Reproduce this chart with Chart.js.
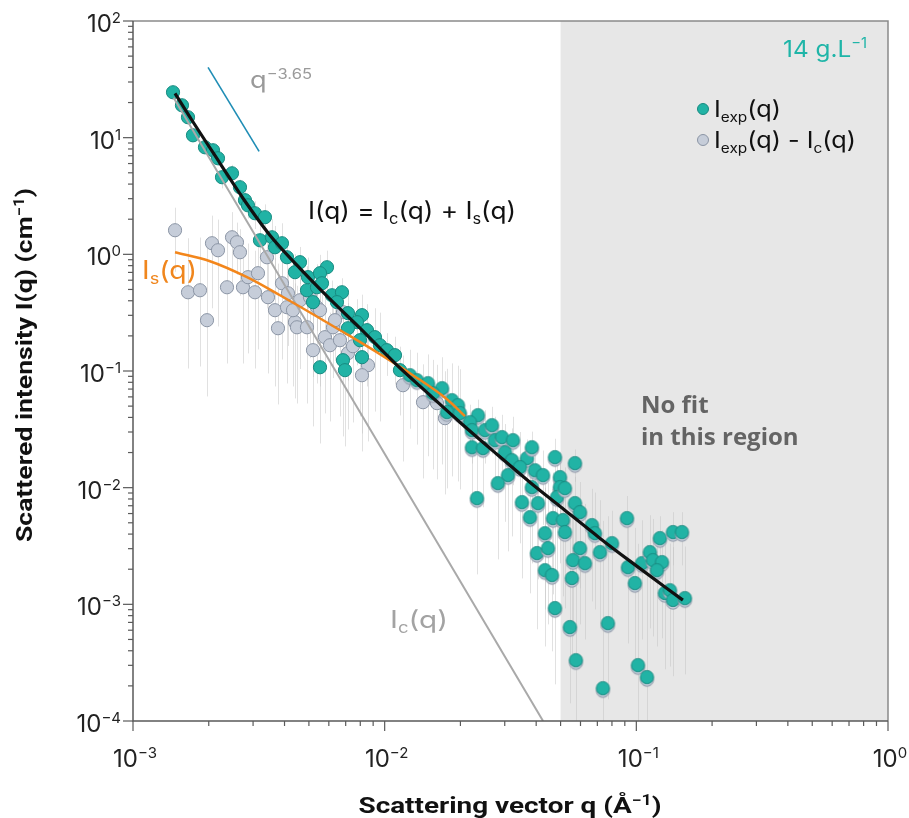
<!DOCTYPE html>
<html>
<head>
<meta charset="utf-8">
<script src="https://cdn.jsdelivr.net/npm/chart.js@4.4.1/dist/chart.umd.min.js"></script>
<style>
  html, body { margin: 0; padding: 0; background: #fff; }
  #wrap { width: 909px; height: 818px; }
</style>
</head>
<body>
<div id="wrap"><canvas id="saxsChart"></canvas></div>
<script>
// measured intensity Iexp(q), teal markers
var tealQ = [1.442e-3, 1.565e-3, 1.654e-3, 1.731e-3, 1.932e-3, 2.079e-3, 2.176e-3, 2.258e-3, 2.474e-3, 2.661e-3,
  2.786e-3, 2.863e-3, 3.052e-3, 3.344e-3, 3.195e-3, 3.566e-3, 3.666e-3, 3.908e-3, 4.091e-3, 4.607e-3,
  4.401e-3, 4.958e-3, 4.913e-3, 5.383e-3, 5.190e-3, 5.899e-3, 5.534e-3, 5.636e-3, 6.174e-3, 6.766e-3,
  6.463e-3, 7.148e-3, 8.125e-3, 7.762e-3, 7.148e-3, 8.505e-3, 9.151e-3, 7.978e-3, 9.579e-3, 0.01021,
  0.01099, 8.125e-3, 6.828e-3, 5.534e-3, 6.954e-3, 0.0115, 0.0126, 0.01344, 0.01486, 0.0169,
  0.01556, 0.01851, 0.01955, 0.01768, 0.01991, 0.02348, 0.02183, 0.02223, 0.02223, 0.02503,
  0.02669, 0.02458, 0.02743, 0.02924, 0.03234, 0.03006, 0.03205, 0.03676, 0.03847, 0.03449,
  0.03955, 0.04256, 0.0309, 0.02818, 0.03847, 0.0475, 0.05703, 0.04972, 0.04972, 0.04837,
  0.05203, 0.02327, 0.03512, 0.04065, 0.05703, 0.03778, 0.04664, 0.0511, 0.04335, 0.05203,
  0.0597, 0.06662, 0.06847, 0.08, 0.07168, 0.0597, 0.04028, 0.04455, 0.05599, 0.06249,
  0.04335, 0.04621, 0.05547, 0.09179, 0.09262, 0.1053, 0.1241, 0.1132, 0.1164, 0.1264,
  0.1207, 0.1398, 0.1518, 0.0987, 0.1299, 0.136, 0.1398, 0.156, 0.0475, 0.05447,
  0.07712, 0.05754, 0.1015, 0.1102, 0.07366];
var tealI = [24.5, 18.95, 14.96, 10.48, 8.27, 7.8, 6.66, 4.58, 4.95, 3.76,
  2.91, 2.63, 2.25, 2.08, 1.32, 1.4, 1.15, 1.245, 0.944, 0.856,
  0.703, 0.637, 0.492, 0.522, 0.389, 0.775, 0.689, 0.565, 0.446, 0.473,
  0.389, 0.313, 0.301, 0.262, 0.2326, 0.2237, 0.1949, 0.1836, 0.1663, 0.1508,
  0.1366, 0.1313, 0.1238, 0.1077, 0.1016, 0.1016, 0.092, 0.0834, 0.0786, 0.0712,
  0.0645, 0.0562, 0.0509, 0.0444, 0.0435, 0.0418, 0.0364, 0.0311, 0.0222, 0.0311,
  0.0343, 0.0218, 0.0255, 0.0271, 0.0255, 0.0201, 0.0172, 0.0179, 0.0222, 0.015,
  0.0141, 0.0128, 0.0128, 0.01093, 0.0101, 0.01825, 0.01622, 0.0123, 0.0101, 0.00829,
  0.0099, 0.00813, 0.00751, 0.00737, 0.00737, 0.00559, 0.00548, 0.00527, 0.00407, 0.00416,
  0.00617, 0.00477, 0.00407, 0.00334, 0.0028, 0.00303, 0.00275, 0.00303, 0.00239, 0.00225,
  0.00196, 0.00178, 0.00168, 0.00548, 0.00208, 0.00225, 0.00369, 0.0028, 0.00239, 0.0023,
  0.00196, 0.00416, 0.00416, 0.00152, 0.00125, 0.00132, 0.00109, 0.00113, 0.000928, 0.000638,
  0.00069, 0.000332, 0.000301, 0.000238, 0.000191];

// Iexp(q) - Ic(q), grey markers
var diffQ = [1.469e-3, 2.06e-3, 2.176e-3, 2.474e-3, 2.589e-3, 2.661e-3, 1.654e-3, 1.846e-3, 1.968e-3, 2.363e-3,
  2.735e-3, 2.863e-3, 3.138e-3, 3.052e-3, 3.406e-3, 3.438e-3, 3.666e-3, 3.768e-3, 3.908e-3, 4.128e-3,
  4.401e-3, 4.482e-3, 4.913e-3, 4.607e-3, 5.049e-3, 4.091e-3, 4.322e-3, 5.383e-3, 5.791e-3, 6.062e-3,
  5.19e-3, 6.643e-3, 6.232e-3, 6.828e-3, 6.346e-3, 7.148e-3, 7.482e-3, 8.583e-3, 8.125e-3, 5.534e-3,
  0.01182, 0.0142, 0.01736, 0.01614];
var diffI = [1.609, 1.245, 1.084, 1.4, 1.269, 1.042, 0.473, 0.492, 0.2725, 0.522,
  0.522, 0.637, 0.689, 0.473, 0.944, 0.429, 0.332, 0.2326, 0.565, 0.464,
  0.262, 0.237, 0.237, 0.404, 0.429, 0.352, 0.332, 0.352, 0.1949, 0.1663,
  0.1508, 0.1836, 0.237, 0.319, 0.2725, 0.142, 0.1631, 0.1121, 0.092, 0.332,
  0.0755, 0.054, 0.0394, 0.053];

// total fit I(q) = Ic(q) + Is(q)
var fitQ = [1.469e-3, 1.715e-3, 2.217e-3, 2.735e-3, 3.5e-3, 4.48e-3, 5.9e-3, 7.98e-3, 0.01119,
  0.01514, 0.0199, 0.02792, 0.03775, 0.04966, 0.07161, 0.0944, 0.1531];
var fitI = [24.0, 14.1, 6.03, 3.025, 1.458, 0.807, 0.4375, 0.2326, 0.1121,
  0.062, 0.0364, 0.01936, 0.01115, 0.00694, 0.003693, 0.002346, 0.001086];

// Is(q) component
var isQ = [1.469e-3, 2.023e-3, 2.838e-3, 3.837e-3, 5.19e-3, 7.08e-3, 9.58e-3, 0.01295, 0.01768, 0.02084];
var isI = [1.042, 0.873, 0.637, 0.446, 0.3067, 0.2067, 0.1393, 0.092, 0.0573, 0.041];

// Ic(q) component (straight in log-log)
var icQ = [1.45e-3, 0.0426];
var icI = [22, 1e-4];

// q^-3.65 guide segment
var guideQ = [1.987e-3, 3.17e-3];
var guideI = [40.1, 7.64];

// error bar half-widths (cm-1) per q range
var errQ = [0.0014, 0.0025, 0.004, 0.006, 0.01, 0.02, 0.035, 0.05, 0.08, 0.12];
var errSigma = [0.9, 0.6, 0.3, 0.15, 0.06, 0.015, 0.008, 0.005, 0.003, 0.002];

var noFitFrom = 0.05;
var xDecades = [-3, -2, -1, 0];
var yDecades = [-4, -3, -2, -1, 0, 1, 2];
var minorSteps = [2, 3, 4, 5, 6, 7, 8, 9];

var FONT = 'Inter, Roboto, sans-serif';
var BOLD_FONT = 'Roboto, "Liberation Sans", sans-serif';
var TEAL = '#21b3a5';
var TEAL_EDGE = '#178a80';
var GREY_FILL = '#c6cdd9';
var GREY_EDGE = '#8b95a5';
var DOT_R = 6.6;

function toPoints(qs, is) {
  return qs.map(function (q, i) { return { x: q, y: is[i] }; });
}

// teal marker with the grey one peeking below it
var shadowDot = document.createElement('canvas');
shadowDot.width = 17; shadowDot.height = 22;
(function () {
  var c = shadowDot.getContext('2d');
  c.lineWidth = 1;
  c.beginPath(); c.arc(8.5, 13.6, DOT_R, 0, Math.PI * 2);
  c.fillStyle = GREY_FILL; c.fill(); c.strokeStyle = GREY_EDGE; c.stroke();
  c.beginPath(); c.arc(8.5, 11, DOT_R, 0, Math.PI * 2);
  c.fillStyle = TEAL; c.fill(); c.strokeStyle = TEAL_EDGE; c.stroke();
})();

// text with sub/superscript runs
function runFont(kind, size, weight, family) {
  var s = kind ? Math.round(size * 0.62) : size;
  return weight + ' ' + s + 'px ' + family;
}
function measureRuns(ctx, runs, size, weight, family) {
  var w = 0;
  runs.forEach(function (r) {
    ctx.font = runFont(r[1], size, weight, family);
    w += ctx.measureText(r[0]).width;
  });
  return w;
}
function drawRuns(ctx, runs, x, y, o) {
  var size = o.size, weight = o.weight || 'normal', family = o.family || FONT;
  var w = measureRuns(ctx, runs, size, weight, family);
  var sx = o.width ? o.width / w : 1;
  ctx.save();
  ctx.translate(x, y);
  if (o.rotate) ctx.rotate(o.rotate);
  ctx.scale(sx, 1);
  var cx = o.align === 'center' ? -w / 2 : o.align === 'right' ? -w : 0;
  ctx.fillStyle = o.color;
  ctx.textAlign = 'left';
  ctx.textBaseline = 'alphabetic';
  runs.forEach(function (r) {
    ctx.font = runFont(r[1], size, weight, family);
    var dy = r[1] === 'sup' ? -size * 0.38 : r[1] === 'sub' ? size * 0.2 : 0;
    ctx.fillText(r[0], cx, dy);
    cx += ctx.measureText(r[0]).width;
  });
  ctx.restore();
}
function expLabel(d) {
  return [['10', ''], [String(d).replace('-', '\u2212'), 'sup']];
}

function sigmaAt(q) {
  var s = errSigma[0];
  for (var i = 0; i < errQ.length; i++) if (q >= errQ[i]) s = errSigma[i];
  return s;
}

var backgroundPlugin = {
  id: 'background',
  beforeDatasetsDraw: function (chart) {
    var ctx = chart.ctx, a = chart.chartArea;
    var xs = chart.scales.x, ys = chart.scales.y;
    var x0 = xs.getPixelForValue(noFitFrom);
    ctx.save();
    ctx.fillStyle = '#e7e7e7';
    ctx.fillRect(x0, a.top, a.right - x0, a.bottom - a.top);
    // error bars
    ctx.strokeStyle = 'rgba(195,195,195,0.5)';
    ctx.lineWidth = 1;
    [[diffQ, diffI], [tealQ, tealI]].forEach(function (set) {
      set[0].forEach(function (q, i) {
        var v = set[1][i], s = sigmaAt(q);
        var lo = Math.max(v - s, v / 4.5, 1e-4);
        var hi = v + s;
        var px = Math.round(xs.getPixelForValue(q)) + 0.5;
        ctx.beginPath();
        ctx.moveTo(px, ys.getPixelForValue(hi));
        ctx.lineTo(px, ys.getPixelForValue(lo));
        ctx.stroke();
      });
    });
    ctx.restore();
  }
};

var axesPlugin = {
  id: 'axes',
  afterDraw: function (chart) {
    var ctx = chart.ctx, a = chart.chartArea;
    var xs = chart.scales.x, ys = chart.scales.y;
    ctx.save();
    // frame
    ctx.lineWidth = 1.5;
    ctx.strokeStyle = '#8a8a8a';
    ctx.beginPath();
    ctx.moveTo(a.left, a.top); ctx.lineTo(a.right, a.top); ctx.lineTo(a.right, a.bottom);
    ctx.stroke();
    ctx.strokeStyle = '#5a5a5a';
    ctx.beginPath();
    ctx.moveTo(a.left, a.top); ctx.lineTo(a.left, a.bottom); ctx.lineTo(a.right, a.bottom);
    ctx.stroke();
    // ticks
    ctx.lineWidth = 1.2;
    yDecades.forEach(function (d) {
      var y = ys.getPixelForValue(Math.pow(10, d));
      ctx.beginPath(); ctx.moveTo(a.left - 10, y); ctx.lineTo(a.left, y); ctx.stroke();
      if (d < yDecades[yDecades.length - 1]) {
        minorSteps.forEach(function (m) {
          var ym = ys.getPixelForValue(m * Math.pow(10, d));
          ctx.beginPath(); ctx.moveTo(a.left - 5, ym); ctx.lineTo(a.left, ym); ctx.stroke();
        });
      }
      drawRuns(ctx, expLabel(d), a.left - 12, y + 11, { size: 24, color: '#222', align: 'right' });
    });
    xDecades.forEach(function (d) {
      var x = xs.getPixelForValue(Math.pow(10, d));
      ctx.beginPath(); ctx.moveTo(x, a.bottom); ctx.lineTo(x, a.bottom + 10); ctx.stroke();
      if (d < xDecades[xDecades.length - 1]) {
        minorSteps.forEach(function (m) {
          var xm = xs.getPixelForValue(m * Math.pow(10, d));
          ctx.beginPath(); ctx.moveTo(xm, a.bottom); ctx.lineTo(xm, a.bottom + 5); ctx.stroke();
        });
      }
      drawRuns(ctx, expLabel(d), x + 2, a.bottom + 46, { size: 24, color: '#222', align: 'center' });
    });
    // axis titles
    drawRuns(ctx, [['Scattering vector q (\u00c5', ''], ['\u22121', 'sup'], [')', '']],
      510, 813, { size: 22, weight: 'bold', family: BOLD_FONT, color: '#111', align: 'center', width: 303 });
    drawRuns(ctx, [['Scattered intensity I(q) (cm', ''], ['\u22121', 'sup'], [')', '']],
      32, 365, { size: 22, weight: 'bold', family: BOLD_FONT, color: '#111', align: 'center', width: 354, rotate: -Math.PI / 2 });

    // annotations
    drawRuns(ctx, [['q', ''], ['\u22123.65', 'sup']], 250, 88, { size: 23, color: '#9a9a9a', width: 62 });
    drawRuns(ctx, [['I(q) = I', ''], ['c', 'sub'], ['(q) + I', ''], ['s', 'sub'], ['(q)', '']],
      412, 219, { size: 24, color: '#111', align: 'center', width: 208 });
    drawRuns(ctx, [['I', ''], ['s', 'sub'], ['(q)', '']], 142, 279, { size: 25, color: '#f0861d', width: 55 });
    drawRuns(ctx, [['I', ''], ['c', 'sub'], ['(q)', '']], 390, 628, { size: 24, color: '#a3a3a3', width: 58 });
    ctx.font = 'bold 24px "Open Sans", sans-serif';
    ctx.fillStyle = '#646464';
    ctx.textAlign = 'left';
    ctx.fillText('No fit', 641, 413);
    ctx.fillText('in this region', 641, 445);
    drawRuns(ctx, [['14 g.L', ''], ['\u22121', 'sup']], 867, 57, { size: 23, color: '#1fb5a8', align: 'right', width: 84 });

    // legend
    var legend = [
      [TEAL, TEAL_EDGE, [['I', ''], ['exp', 'sub'], ['(q)', '']], 109, 67],
      [GREY_FILL, GREY_EDGE, [['I', ''], ['exp', 'sub'], ['(q) - I', ''], ['c', 'sub'], ['(q)', '']], 140, 142]
    ];
    legend.forEach(function (l) {
      ctx.beginPath(); ctx.arc(703, l[3], 5.5, 0, Math.PI * 2);
      ctx.fillStyle = l[0]; ctx.fill();
      ctx.lineWidth = 1; ctx.strokeStyle = l[1]; ctx.stroke();
      drawRuns(ctx, l[2], 714, l[3] + 8, { size: 23, color: '#111', width: l[4] });
    });
    ctx.restore();
  }
};

function lineSet(qs, is, color, width, order, smooth) {
  return {
    data: toPoints(qs, is),
    showLine: true,
    borderColor: color,
    borderWidth: width,
    pointRadius: 0,
    fill: false,
    cubicInterpolationMode: smooth ? 'monotone' : 'default',
    order: order
  };
}

window.onload = function () {
  var ctx = document.getElementById('saxsChart').getContext('2d');
  new Chart(ctx, {
    type: 'scatter',
    data: {
      datasets: [
        lineSet(fitQ, fitI, '#111111', 3.2, 1, true),
        lineSet(isQ, isI, '#f3861b', 2.5, 2, true),
        lineSet(icQ, icI, '#a9a9a9', 2, 3, false),
        lineSet(guideQ, guideI, '#1f8db5', 1.6, 4, false),
        {
          data: toPoints(tealQ, tealI),
          backgroundColor: TEAL,
          borderColor: TEAL_EDGE,
          borderWidth: 1,
          pointRadius: DOT_R,
          pointStyle: function (c) { return c.raw && c.raw.x >= 0.012 ? shadowDot : 'circle'; },
          order: 5
        },
        {
          data: toPoints(diffQ, diffI),
          backgroundColor: GREY_FILL,
          borderColor: GREY_EDGE,
          borderWidth: 1,
          pointRadius: DOT_R,
          order: 6
        }
      ]
    },
    options: {
      responsive: true,
      maintainAspectRatio: false,
      animation: false,
      events: [],
      layout: { padding: { left: 133, right: 21, top: 21, bottom: 97 } },
      plugins: { legend: { display: false }, tooltip: { enabled: false } },
      scales: {
        x: { type: 'logarithmic', min: 1e-3, max: 1, display: false },
        y: { type: 'logarithmic', min: 1e-4, max: 100, display: false }
      }
    },
    plugins: [backgroundPlugin, axesPlugin]
  });
};
</script>
</body>
</html>
